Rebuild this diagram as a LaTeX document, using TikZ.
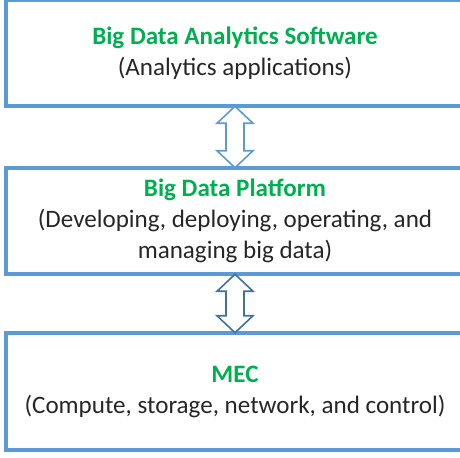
\documentclass[tikz,border=0pt]{standalone}
\usepackage{fontspec}
\setmainfont{Carlito}
\usetikzlibrary{calc}
\definecolor{boxblue}{HTML}{5B9BD5}
\definecolor{arrblue}{HTML}{41719C}
\definecolor{titlegreen}{HTML}{00B050}
\definecolor{txtgray}{HTML}{262626}
\tikzset{
    layer/.style={rectangle, minimum width=458*0.75pt, align=center, inner sep=0pt,
        text=txtgray, font=\fontsize{18.8}{23.3}\selectfont},
    boxline/.style={draw=boxblue, line width=3pt, line join=miter},
    dblarrow/.style={line width=1.2pt, line join=miter, fill=white}
}
\newcommand{\layertitle}[1]{{\bfseries\color{titlegreen}#1}}
\newcommand{\updown}[3]{%
    \draw[dblarrow,#3] (#1.south) -- ($(#1.south)+(18,17)$) -- ($(#1.south)+(9,17)$) -- ($(#2.north)+(9,-17)$)
        -- ($(#2.north)+(18,-17)$) -- (#2.north) -- ($(#2.north)+(-18,-17)$) -- ($(#2.north)+(-9,-17)$)
        -- ($(#1.south)+(-9,17)$) -- ($(#1.south)+(-18,17)$) -- cycle;}

\begin{document}
\begin{tikzpicture}[x=0.75pt,y=-0.75pt]
                \useasboundingbox (0,0) rectangle (460,457);
                \clip (0,0) rectangle (460,457);
                \node[layer, minimum height=106*0.75pt] (software) at (235,53) {\layertitle{Big Data Analytics Software}\\(Analytics applications)};
                \node[layer, minimum height=106*0.75pt] (platform) at (235,221) {\layertitle{Big Data Platform}\\(Developing, deploying, operating, and\\managing big data)};
                \node[layer, minimum height=117*0.75pt] (mec) at (235,391.5) {\layertitle{MEC}\\(Compute, storage, network, and control)};
                \foreach \n in {software,platform,mec}
                    \draw[boxline] ([xshift=20*0.75pt]\n.north east) -- (\n.north west) -- (\n.south west) -- ([xshift=20*0.75pt]\n.south east);
                \updown{software}{platform}{draw=boxblue}
                \updown{platform}{mec}{draw=arrblue}
            \end{tikzpicture}
\end{document}
